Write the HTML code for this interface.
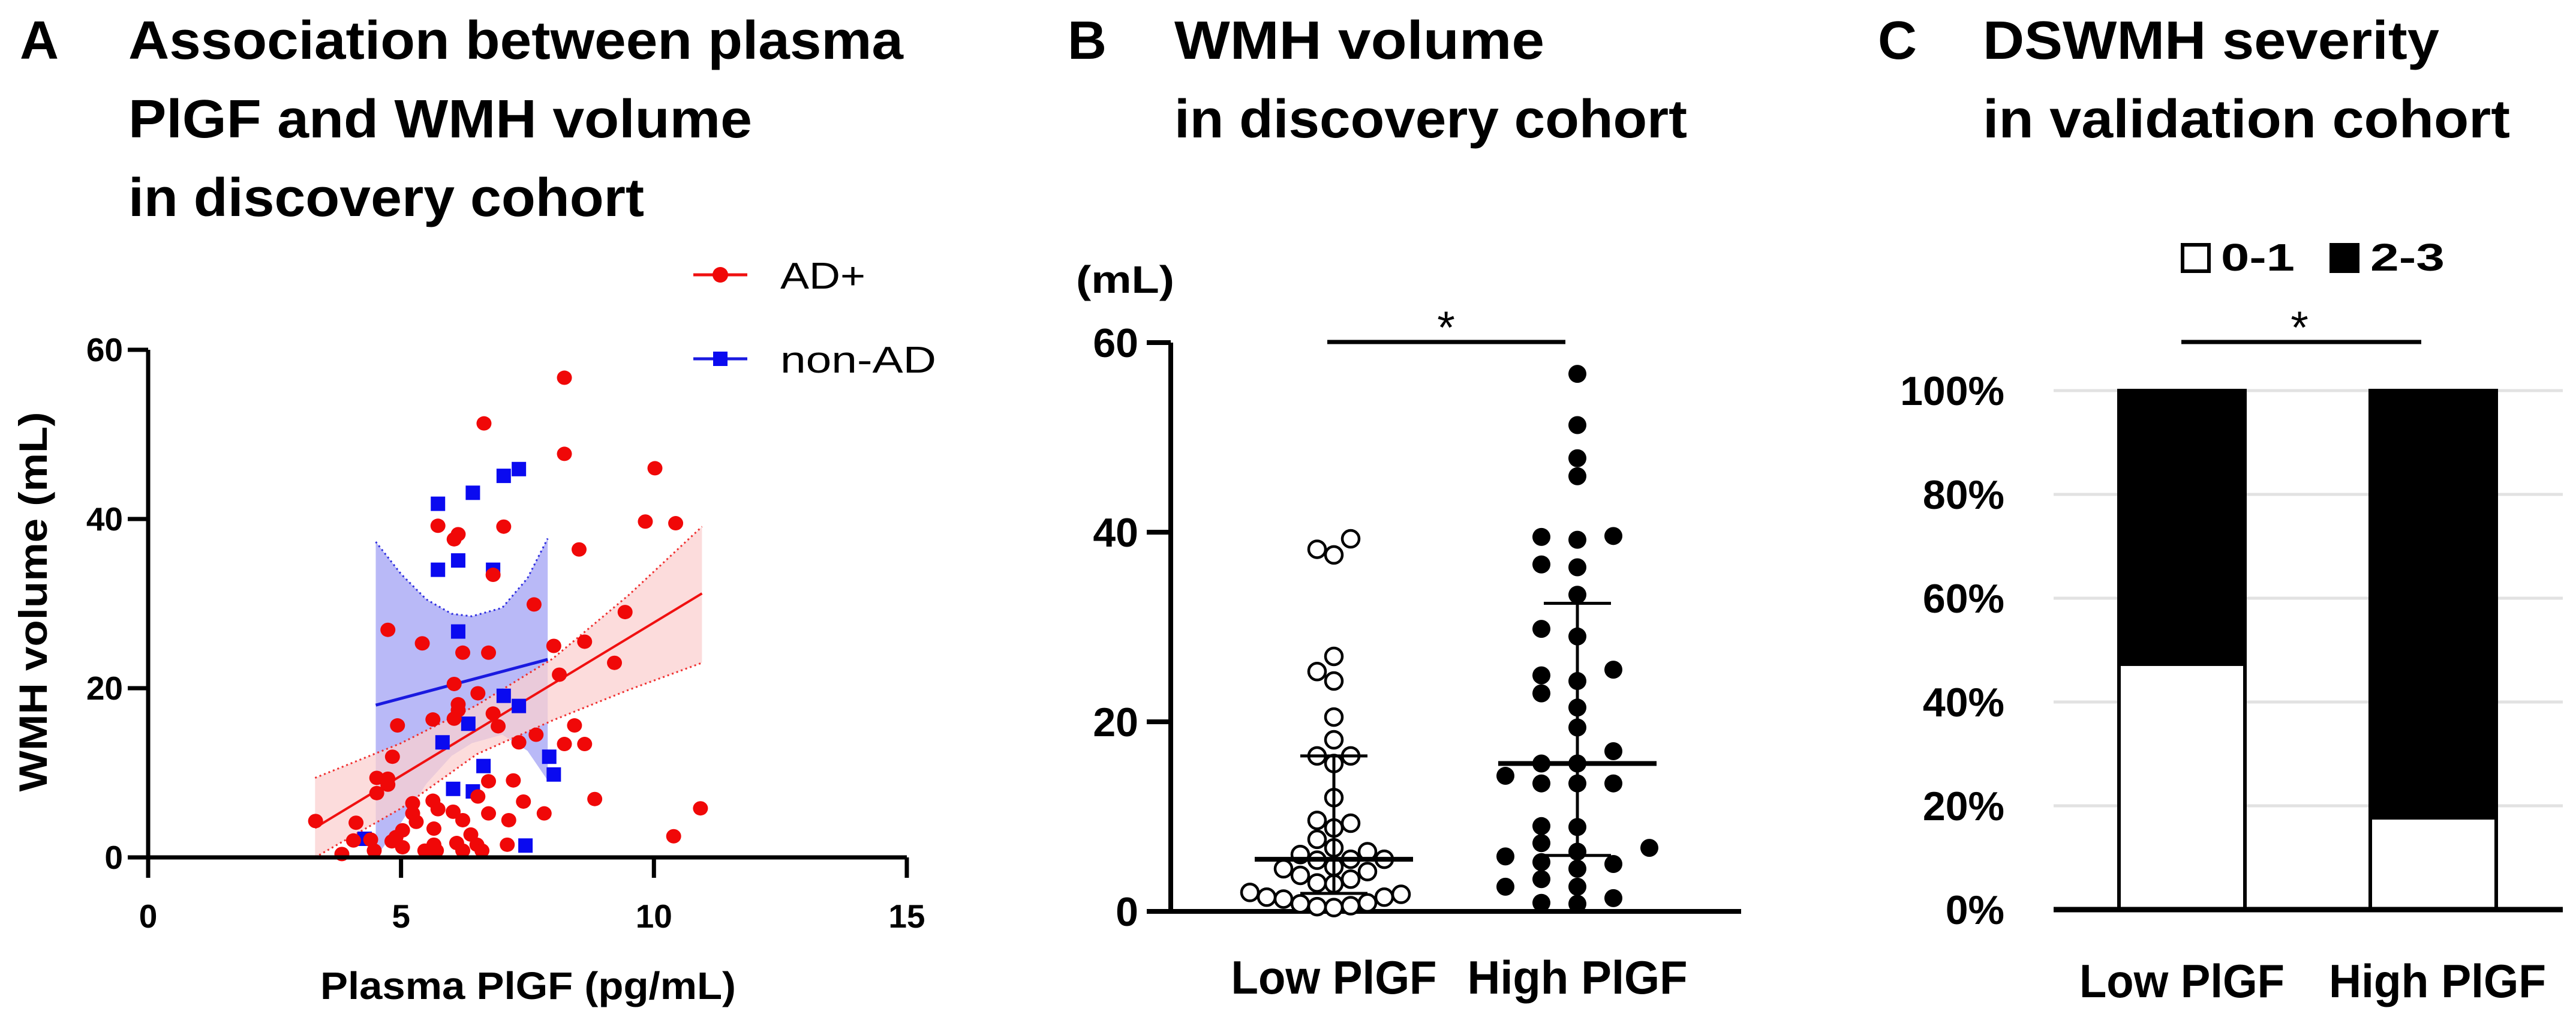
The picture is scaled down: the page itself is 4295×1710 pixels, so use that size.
<!DOCTYPE html>
<html><head><meta charset="utf-8"><style>
html,body{margin:0;padding:0;background:#fff;}
svg{display:block;font-family:"Liberation Sans",sans-serif;}
</style></head><body>
<svg id="fig" width="4295" height="1710" viewBox="0 0 4295 1710" xmlns="http://www.w3.org/2000/svg">
<g font-weight="bold" font-size="90">
<text x="33" y="98">A</text>
<text x="214" y="98" textLength="1292" lengthAdjust="spacingAndGlyphs">Association between plasma</text>
<text x="214" y="229" textLength="1040" lengthAdjust="spacingAndGlyphs">PlGF and WMH volume</text>
<text x="214" y="360" textLength="860" lengthAdjust="spacingAndGlyphs">in discovery cohort</text>
</g>
<g font-weight="bold" font-size="90">
<text x="1780" y="98">B</text>
<text x="1958" y="98" textLength="617" lengthAdjust="spacingAndGlyphs">WMH volume</text>
<text x="1958" y="229" textLength="855" lengthAdjust="spacingAndGlyphs">in discovery cohort</text>
</g>
<g font-weight="bold" font-size="90">
<text x="3131" y="98">C</text>
<text x="3306" y="98" textLength="761" lengthAdjust="spacingAndGlyphs">DSWMH severity</text>
<text x="3306" y="229" textLength="879" lengthAdjust="spacingAndGlyphs">in validation cohort</text>
</g>
<g id="pa"></g>
<g id="pb"></g>
<g id="pc"></g>
</svg>
<script>
// ---- Panel A data ----
const adX = [8.23,6.64,8.23,10.02,5.73,6.13,6.05,7.03,9.83,10.43,8.52,6.82,7.63,9.43,4.74,5.42,6.22,6.73,8.02,8.63,9.22,8.13,6.05,6.52,6.13,6.13,6.82,6.92,5.63,6.05,4.93,7.67,7.33,8.43,8.23,8.63,4.83,4.52,4.74,4.74,4.52,6.73,7.22,6.52,8.83,5.23,5.63,5.73,7.42,7.83,6.73,5.23,4.11,3.31,6.03,6.22,7.13,10.92,10.39,3.83,4.06,4.47,4.4,4.82,5.03,5.03,5.47,5.65,5.7,6.1,6.22,6.5,6.38,6.6,7.1,4.9,5.3,5.65];
const adY = [56.7,51.3,47.7,46.0,39.2,38.2,37.6,39.1,39.7,39.5,36.4,33.4,29.9,29.0,26.9,25.3,24.2,24.2,25.0,25.5,23.0,21.6,20.5,19.4,18.1,17.4,17.0,15.5,16.3,16.4,15.6,14.5,13.6,15.6,13.4,13.4,11.9,9.4,9.3,8.6,7.6,9.0,9.1,7.2,6.9,6.4,6.7,5.7,6.6,5.2,5.2,5.2,4.1,4.3,5.4,4.4,4.4,5.8,2.5,0.4,2.0,0.8,2.1,1.9,3.2,1.2,0.8,1.5,0.8,1.7,0.8,1.5,2.7,0.8,1.5,2.4,4.2,3.4];
const nonX = [5.73,6.42,7.03,7.33,5.73,6.13,6.82,6.13,7.03,7.33,6.33,5.82,7.93,8.02,6.63,6.03,6.42,4.28,7.46];
const nonY = [41.8,43.1,45.1,45.9,34.0,35.1,34.0,26.7,19.1,17.9,15.8,13.6,11.9,9.8,10.8,8.1,7.8,2.2,1.4];
const adFitX = [3.3, 10.95];
const adFitY = [3.5, 31.2];
const adBandX = [3.3, 5, 6.5, 8, 9.5, 10.95];
const adBandUp = [9.4, 13.5, 18.0, 23.5, 31.0, 39.1];
const adBandLo = [0, 5.8, 12.2, 16.2, 19.8, 23.0];
const nonFitX = [4.5, 7.9];
const nonFitY = [18.0, 23.4];
const nonBandX = [4.5, 5, 5.5, 6, 6.4, 7, 7.5, 7.9];
const nonBandUp = [37.3, 33.5, 30.5, 28.8, 28.5, 29.5, 33.0, 37.7];
const nonBandLo = [0, 4.1, 8.7, 12.0, 13.5, 14.5, 12.6, 9.1];
const aXTicks = [0, 5, 10, 15];
const aYTicks = [0, 20, 40, 60];
// ---- Panel B data ----
const lowVals = [39.3,38.2,37.6,26.9,25.3,24.3,20.5,18.1,16.4,16.4,15.6,12.0,9.6,9.3,8.8,7.6,6.7,6.3,6.0,5.5,5.5,5.4,4.7,4.5,4.2,3.8,3.4,2.9,3.0,2.0,1.8,1.3,1.5,1.5,0.8,0.5,0.6,0.9,0.4];
const highVals = [56.7,51.3,47.8,45.9,39.6,39.2,39.5,36.6,36.3,33.4,29.8,29.0,24.9,25.5,24.3,23.0,21.5,19.4,16.9,15.6,15.6,14.3,13.5,13.5,13.5,8.9,9.0,7.2,6.3,5.8,6.7,5.2,5.0,4.5,3.4,2.6,2.6,1.4,0.8,0.9];
const bGroups = ["Low PlGF", "High PlGF"];
const bMedian = [5.5, 15.6];
const bQ1 = [1.9, 5.9];
const bQ3 = [16.4, 32.5];
const bYTicks = [0, 20, 40, 60];
// ---- Panel C data ----
const cGroups = ["Low PlGF", "High PlGF"];
const cLow01 = [47.3, 17.7];
const cHigh23 = [52.7, 82.3];
const cYTicks = [0, 20, 40, 60, 80, 100];

const NS = "http://www.w3.org/2000/svg";
function mk(parent, tag, attrs, txt) {
  const e = document.createElementNS(NS, tag);
  for (const k in attrs) e.setAttribute(k, attrs[k]);
  if (txt !== undefined) e.textContent = txt;
  parent.appendChild(e);
  return e;
}

// ===== Panel A =====
(function () {
  const g = document.getElementById("pa");
  const xs = v => 247 + v * 84.33;
  const ys = v => 1429 - v * 14.1;
  const bandPath = (X, U, L) => {
    let d = "M" + X.map((x, i) => xs(x) + "," + ys(U[i])).join(" L");
    d += " L" + X.slice().reverse().map((x, i) => xs(x) + "," + ys(L[L.length - 1 - i])).join(" L") + " Z";
    return d;
  };
  const lineOf = (X, V) => "M" + X.map((x, i) => xs(x) + "," + ys(V[i])).join(" L");
  let e;
  e = mk(g, "path", { d: bandPath(nonBandX, nonBandUp, nonBandLo), fill: "#b9b9f7" });
  
  
  e = mk(g, "path", { d: lineOf(nonBandX, nonBandUp), fill: "none", stroke: "#3030e0", "stroke-width": 3, "stroke-dasharray": "3 5" });
  
  
  e = mk(g, "path", { d: bandPath(adBandX, adBandUp, adBandLo), fill: "#fbd0d0", "fill-opacity": 0.75 });
  
  
  e = mk(g, "path", { d: lineOf(adBandX, adBandUp), fill: "none", stroke: "#f03030", "stroke-width": 3, "stroke-dasharray": "3 5" });
  
  
  e = mk(g, "path", { d: lineOf(adBandX, adBandLo), fill: "none", stroke: "#f03030", "stroke-width": 3, "stroke-dasharray": "3 5" });
  
  
  e = mk(g, "path", { d: lineOf(nonFitX, nonFitY), stroke: "#1a1ae0", "stroke-width": 5, fill: "none" });
  
  
  e = mk(g, "path", { d: lineOf(adFitX, adFitY), stroke: "#f01010", "stroke-width": 4, fill: "none" });
  
  
  for (let i = 0; i < nonX.length; i++) {
    e = mk(g, "rect", { x: xs(nonX[i]) - 12, y: ys(nonY[i]) - 12, width: 24, height: 24, fill: "#0a0af0" });
    
    
  }
  for (let i = 0; i < adX.length; i++) {
    e = mk(g, "ellipse", { cx: xs(adX[i]), cy: ys(adY[i]), rx: 12.5, ry: 12, fill: "#f00808" });
    
    
  }
  e = mk(g, "path", { d: `M${xs(0)},${ys(60)} L${xs(0)},${ys(0) + 34} M${xs(0) - 34},${ys(0)} L${xs(15)},${ys(0)}`, stroke: "#000", "stroke-width": 7, fill: "none" });
  
  
  aYTicks.forEach(v => {
    const t = mk(g, "line", { x1: xs(0) - 34, x2: xs(0), y1: ys(v), y2: ys(v), stroke: "#000", "stroke-width": 7 });
    
    
    const l = mk(g, "text", { x: 205, y: ys(v) + 19, "text-anchor": "end", "font-size": 55, "font-weight": "bold" }, String(v));
    
    
  });
  aXTicks.forEach(v => {
    const t = mk(g, "line", { x1: xs(v), x2: xs(v), y1: ys(0), y2: ys(0) + 34, stroke: "#000", "stroke-width": 7 });
    
    
    const l = mk(g, "text", { x: xs(v), y: 1546, "text-anchor": "middle", "font-size": 55, "font-weight": "bold" }, String(v));
    
    
  });
  e = mk(g, "text", { x: 534, y: 1665, "font-size": 64, "font-weight": "bold", textLength: 693, lengthAdjust: "spacingAndGlyphs" }, "Plasma PlGF (pg/mL)");
  
  
  e = mk(g, "text", { x: 0, y: 0, "font-size": 66, "font-weight": "bold", textLength: 633, lengthAdjust: "spacingAndGlyphs", "text-anchor": "middle", transform: "translate(78,1003) rotate(-90)" }, "WMH volume (mL)");
  
  
  e = mk(g, "g", {});
  
  
  mk(e, "line", { x1: 1156, x2: 1246, y1: 458, y2: 458, stroke: "#f01010", "stroke-width": 5 });
  mk(e, "circle", { cx: 1201, cy: 458, r: 13, fill: "#f00808" });
  mk(e, "text", { x: 1301, y: 481, "font-size": 62, textLength: 142, lengthAdjust: "spacingAndGlyphs" }, "AD+");
  e = mk(g, "g", {});
  
  
  mk(e, "line", { x1: 1156, x2: 1246, y1: 598, y2: 598, stroke: "#1a1ae0", "stroke-width": 5 });
  mk(e, "rect", { x: 1189, y: 586, width: 24, height: 24, fill: "#0a0af0" });
  mk(e, "text", { x: 1301, y: 621, "font-size": 62, textLength: 260, lengthAdjust: "spacingAndGlyphs" }, "non-AD");
})();

// ===== Panel B =====
(function () {
  const g = document.getElementById("pb");
  const ys = v => 1519 - v * 15.8;
  const centers = [2224, 2630];
  const steps = [28, 60];
  let e;
  e = mk(g, "path", { d: `M1952,${ys(60)} L1952,${ys(0)} M1912,${ys(0)} L2903,${ys(0)}`, stroke: "#000", "stroke-width": 8, fill: "none" });
  
  
  bYTicks.forEach(v => {
    const t = mk(g, "line", { x1: 1912, x2: 1952, y1: ys(v), y2: ys(v), stroke: "#000", "stroke-width": 8 });
    
    
    const l = mk(g, "text", { x: 1898, y: ys(v) + 24, "text-anchor": "end", "font-size": 68, "font-weight": "bold" }, String(v));
    
    
  });
  e = mk(g, "text", { x: 1794, y: 488, "font-size": 64, "font-weight": "bold", textLength: 164, lengthAdjust: "spacingAndGlyphs" }, "(mL)");
  
  
  const sets = [lowVals, highVals];
  sets.forEach((vals, gi) => {
    const cx = centers[gi];
    const step = steps[gi];
    const placed = [];
    const idx = vals.map((v, i) => i).sort((a, b) => vals[a] - vals[b]);
    idx.forEach(i => {
      const y = ys(vals[i]);
      const slots = [0, -1, 1, -2, 2, -3, 3, -4, 4, -5, 5, -6, 6];
      let x = cx;
      for (const s of slots) {
        const tx = cx + s * step;
        if (!placed.some(p => (p[0] - tx) ** 2 + (p[1] - y) ** 2 < 28 * 28)) { x = tx; break; }
      }
      placed.push([x, y]);
      const c = mk(g, "circle", { cx: x, cy: y, r: gi ? 15 : 14, fill: gi ? "#000" : "#fff", stroke: "#000", "stroke-width": gi ? 0 : 4.5 });
      
      
    });
    const eb = mk(g, "path", {
      d: `M${cx},${ys(bQ1[gi])} L${cx},${ys(bQ3[gi])} M${cx - 56},${ys(bQ3[gi])} L${cx + 56},${ys(bQ3[gi])} M${cx - 56},${ys(bQ1[gi])} L${cx + 56},${ys(bQ1[gi])}`,
      stroke: "#000", "stroke-width": 5, fill: "none"
    });
    
    
    const md = mk(g, "line", { x1: cx - 132, x2: cx + 132, y1: ys(bMedian[gi]), y2: ys(bMedian[gi]), stroke: "#000", "stroke-width": 8 });
    
    
    const lb = mk(g, "text", { x: cx, y: 1656, "text-anchor": "middle", "font-size": 78, "font-weight": "bold", textLength: gi ? 367 : 343, lengthAdjust: "spacingAndGlyphs" }, bGroups[gi]);
    
    
  });
  e = mk(g, "line", { x1: 2213, x2: 2610, y1: 570, y2: 570, stroke: "#000", "stroke-width": 7 });
  
  
  e = mk(g, "text", { x: 2411, y: 572, "text-anchor": "middle", "font-size": 76 }, "*");
  
  
})();

// ===== Panel C =====
(function () {
  const g = document.getElementById("pc");
  const ys = v => 1516 - v * 8.65;
  const bx = [3533, 3952];
  const bw = 210;
  let e;
  cYTicks.forEach(v => {
    if (v > 0) {
      const gl = mk(g, "line", { x1: 3424, x2: 4273, y1: ys(v), y2: ys(v), stroke: "#e2e2e2", "stroke-width": 5 });
      
      
    }
    const l = mk(g, "text", { x: 3342, y: ys(v) + 24, "text-anchor": "end", "font-size": 68, "font-weight": "bold" }, v + "%");
    
    
  });
  cGroups.forEach((name, i) => {
    const r1 = mk(g, "rect", { x: bx[i], y: ys(cLow01[i]), width: bw, height: ys(0) - ys(cLow01[i]), fill: "#fff", stroke: "#000", "stroke-width": 6 });
    
    
    const r2 = mk(g, "rect", { x: bx[i], y: ys(cLow01[i] + cHigh23[i]), width: bw, height: ys(cLow01[i]) - ys(cLow01[i] + cHigh23[i]), fill: "#000", stroke: "#000", "stroke-width": 6 });
    
    
    const lb = mk(g, "text", { x: bx[i] + bw / 2 - (i ? -7 : 0), y: 1662, "text-anchor": "middle", "font-size": 78, "font-weight": "bold", textLength: i ? 362 : 342, lengthAdjust: "spacingAndGlyphs" }, name);
    
    
  });
  e = mk(g, "line", { x1: 3424, x2: 4273, y1: ys(0), y2: ys(0), stroke: "#000", "stroke-width": 9 });
  
  
  e = mk(g, "line", { x1: 3637, x2: 4037, y1: 570, y2: 570, stroke: "#000", "stroke-width": 7 });
  
  
  e = mk(g, "text", { x: 3834, y: 572, "text-anchor": "middle", "font-size": 76 }, "*");
  
  
  e = mk(g, "g", {});
  
  
  mk(e, "rect", { x: 3639, y: 408, width: 44, height: 44, fill: "#fff", stroke: "#000", "stroke-width": 6 });
  mk(e, "text", { x: 3703, y: 451, "font-size": 64, "font-weight": "bold", textLength: 123, lengthAdjust: "spacingAndGlyphs" }, "0-1");
  e = mk(g, "g", {});
  
  
  mk(e, "rect", { x: 3884, y: 405, width: 50, height: 50, fill: "#000" });
  mk(e, "text", { x: 3952, y: 451, "font-size": 64, "font-weight": "bold", textLength: 124, lengthAdjust: "spacingAndGlyphs" }, "2-3");
})();
</script>
</body></html>
